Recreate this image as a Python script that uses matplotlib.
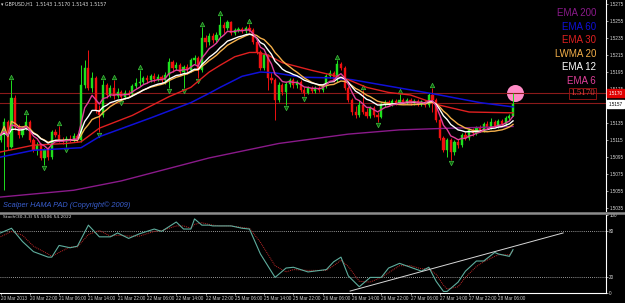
import matplotlib
matplotlib.use("Agg")
import matplotlib.pyplot as plt
import matplotlib.transforms as mtransforms
from matplotlib.lines import Line2D
import numpy as np
import pandas as pd

# GBPUSD H1, bar 0 = 20 Mar 2013 14:00
open0 = 1.5115
close = [
    1.5121, 1.5136, 1.5107, 1.5164, 1.5130, 1.5121, 1.5129, 1.5136, 1.5115, 1.5103,
    1.5109, 1.5094, 1.5103, 1.5095, 1.5124, 1.5121, 1.5115, 1.5114, 1.5116, 1.5115,
    1.5120, 1.5115, 1.5180, 1.5200, 1.5176, 1.5188, 1.5150, 1.5144, 1.5180, 1.5168,
    1.5176, 1.5167, 1.5171, 1.5166, 1.5170, 1.5169, 1.5179, 1.5182, 1.5183, 1.5188,
    1.5186, 1.5190, 1.5187, 1.5189, 1.5186, 1.5191, 1.5207, 1.5200, 1.5203, 1.5195,
    1.5201, 1.5197, 1.5209, 1.5211, 1.5197, 1.5235, 1.5230, 1.5237, 1.5233, 1.5238,
    1.5250, 1.5247, 1.5254, 1.5241, 1.5244, 1.5246, 1.5243, 1.5247, 1.5244, 1.5230,
    1.5218, 1.5200, 1.5215, 1.5188, 1.5186, 1.5162, 1.5180, 1.5171, 1.5181, 1.5186,
    1.5180, 1.5183, 1.5174, 1.5170, 1.5176, 1.5173, 1.5176, 1.5174, 1.5179, 1.5190,
    1.5194, 1.5186, 1.5204, 1.5200, 1.5176, 1.5162, 1.5148, 1.5144, 1.5156, 1.5148,
    1.5143, 1.5153, 1.5144, 1.5142, 1.5157, 1.5160, 1.5157, 1.5161, 1.5159, 1.5162,
    1.5160, 1.5162, 1.5159, 1.5161, 1.5157, 1.5160, 1.5156, 1.5168, 1.5162, 1.5139,
    1.5117, 1.5103, 1.5115, 1.5101, 1.5113, 1.5109, 1.5121, 1.5117, 1.5127, 1.5123,
    1.5129, 1.5127, 1.5134, 1.5130, 1.5136, 1.5131, 1.5137, 1.5134, 1.5141, 1.5143,
    1.5157,
]
high = [
    1.5124, 1.5141, 1.5139, 1.5186, 1.5168, 1.5134, 1.5131, 1.5144, 1.5139, 1.5117,
    1.5113, 1.5111, 1.5106, 1.5107, 1.5127, 1.5128, 1.5131, 1.5119, 1.5120, 1.5121,
    1.5123, 1.5122, 1.5203, 1.5209, 1.5221, 1.5195, 1.5190, 1.5156, 1.5186, 1.5182,
    1.5180, 1.5186, 1.5176, 1.5174, 1.5174, 1.5174, 1.5181, 1.5188, 1.5197, 1.5190,
    1.5191, 1.5193, 1.5194, 1.5193, 1.5191, 1.5195, 1.5211, 1.5209, 1.5207, 1.5206,
    1.5203, 1.5204, 1.5211, 1.5215, 1.5214, 1.5248, 1.5238, 1.5241, 1.5241, 1.5242,
    1.5261, 1.5254, 1.5256, 1.5255, 1.5247, 1.5248, 1.5248, 1.5249, 1.5251, 1.5247,
    1.5233, 1.5221, 1.5217, 1.5216, 1.5195, 1.5188, 1.5183, 1.5182, 1.5183, 1.5188,
    1.5188, 1.5186, 1.5186, 1.5177, 1.5179, 1.5179, 1.5179, 1.5179, 1.5181, 1.5193,
    1.5197, 1.5196, 1.5209, 1.5207, 1.5202, 1.5179, 1.5164, 1.5155, 1.5162, 1.5174,
    1.5153, 1.5155, 1.5155, 1.5148, 1.5160, 1.5162, 1.5162, 1.5163, 1.5163, 1.5169,
    1.5164, 1.5164, 1.5164, 1.5163, 1.5163, 1.5162, 1.5162, 1.5170, 1.5176, 1.5164,
    1.5141, 1.5120, 1.5117, 1.5117, 1.5115, 1.5116, 1.5123, 1.5124, 1.5129, 1.5129,
    1.5131, 1.5133, 1.5136, 1.5137, 1.5141, 1.5139, 1.5140, 1.5140, 1.5143, 1.5146,
    1.5170,
]
low = [
    1.5113, 1.5056, 1.5103, 1.5106, 1.5127, 1.5117, 1.5119, 1.5127, 1.5113, 1.5101,
    1.5097, 1.5091, 1.5086, 1.5091, 1.5093, 1.5119, 1.5113, 1.5110, 1.5107, 1.5113,
    1.5113, 1.5113, 1.5113, 1.5176, 1.5174, 1.5171, 1.5147, 1.5124, 1.5142, 1.5164,
    1.5166, 1.5163, 1.5164, 1.5162, 1.5163, 1.5166, 1.5167, 1.5176, 1.5179, 1.5181,
    1.5182, 1.5183, 1.5183, 1.5184, 1.5182, 1.5181, 1.5176, 1.5195, 1.5197, 1.5191,
    1.5176, 1.5193, 1.5195, 1.5204, 1.5188, 1.5195, 1.5224, 1.5227, 1.5229, 1.5230,
    1.5236, 1.5241, 1.5244, 1.5238, 1.5238, 1.5242, 1.5241, 1.5241, 1.5242, 1.5228,
    1.5216, 1.5197, 1.5197, 1.5174, 1.5182, 1.5139, 1.5160, 1.5168, 1.5156, 1.5177,
    1.5176, 1.5176, 1.5171, 1.5167, 1.5169, 1.5170, 1.5170, 1.5171, 1.5171, 1.5176,
    1.5188, 1.5183, 1.5183, 1.5197, 1.5174, 1.5160, 1.5144, 1.5141, 1.5142, 1.5146,
    1.5141, 1.5141, 1.5142, 1.5136, 1.5141, 1.5154, 1.5155, 1.5155, 1.5156, 1.5157,
    1.5157, 1.5157, 1.5156, 1.5156, 1.5155, 1.5155, 1.5154, 1.5154, 1.5148, 1.5136,
    1.5115, 1.5101, 1.5095, 1.5091, 1.5097, 1.5106, 1.5107, 1.5115, 1.5115, 1.5120,
    1.5121, 1.5124, 1.5124, 1.5128, 1.5128, 1.5129, 1.5129, 1.5131, 1.5131, 1.5139,
    1.5143,
]

fractal_up = [3, 7, 16, 28, 31, 38, 55, 60, 68, 92, 99, 109, 118]
fractal_dn = [12, 18, 27, 33, 46, 50, 54, 78, 83, 103, 123]

# slow averages (bar index, price)
ema30_idx = [0, 9, 18, 22, 27, 36, 46, 52, 57, 60, 64, 68, 70, 73, 77, 85, 91, 95, 100, 106, 112, 120, 128, 140]
ema30_val = [1.5101, 1.5109, 1.5111, 1.5113, 1.5129, 1.5144, 1.5166, 1.5177, 1.5195, 1.5203, 1.5213, 1.5218,
             1.5218, 1.5215, 1.5206, 1.5197, 1.5191, 1.5186, 1.5177, 1.5171, 1.5168, 1.5156, 1.5148, 1.5147]
ema60_idx = [0, 9, 22, 27, 41, 52, 57, 60, 66, 71, 75, 82, 91, 96, 104, 112, 120, 131, 140]
ema60_val = [1.5095, 1.5103, 1.5106, 1.5119, 1.5141, 1.5159, 1.5170, 1.5177, 1.5190, 1.5195, 1.5194, 1.5189,
             1.5188, 1.5186, 1.5180, 1.5174, 1.5168, 1.5159, 1.5154]
ema200_idx = [0, 20, 33, 57, 76, 95, 109, 123, 140]
ema200_val = [1.5048, 1.5056, 1.5067, 1.5094, 1.5111, 1.5122, 1.5127, 1.5129, 1.5131]

hlines = [1.5170, 1.5159]

stoch_idx = [0, 3, 6, 9, 13, 14, 16, 19, 21, 24, 27, 30, 32, 35, 38, 42, 44, 48, 50, 52, 53, 55, 57, 58,
             60, 63, 66, 68, 71, 75, 78, 80, 84, 89, 91, 93, 95, 98, 101, 104, 106, 109, 112, 115, 117,
             119, 121, 122, 125, 127, 130, 132, 135, 136, 139, 140]
stoch_main = [77, 83, 66, 53, 46, 46, 61, 58, 60, 87, 72, 72, 77, 70, 76, 82, 79, 91, 82, 82, 95, 87, 87, 86,
              86, 86, 83, 82, 50, 20, 32, 33, 27, 30, 40, 46, 22, 8, 20, 20, 32, 38, 33, 28, 33,
              15, 2, 2, 14, 28, 41, 41, 52, 50, 47, 55.55]
stoch_signal = [72, 79, 74, 60, 50, 47, 52, 59, 59, 75, 80, 73, 74, 73, 73, 79, 80, 86, 86, 83, 88, 90, 88, 87,
                86, 86, 84, 83, 65, 35, 27, 30, 29, 29, 35, 42, 34, 15, 14, 20, 26, 35, 35, 31, 31,
                24, 10, 5, 8, 20, 34, 40, 47, 49, 49, 54.20]
trend_idx = [95.5, 153.7]
trend_val = [2.5, 77]

date_labels = ["20 Mar 2013", "20 Mar 22:00", "21 Mar 06:00", "21 Mar 14:00", "21 Mar 22:00",
               "22 Mar 06:00", "22 Mar 14:00", "22 Mar 22:00", "25 Mar 06:00", "25 Mar 14:00",
               "25 Mar 22:00", "26 Mar 06:00", "26 Mar 14:00", "26 Mar 22:00", "27 Mar 06:00",
               "27 Mar 14:00", "27 Mar 22:00", "28 Mar 06:00"]

legend_names = ["EMA 200", "EMA 60", "EMA 30", "LWMA 20", "EMA 12", "EMA 6"]
legend_colors = ["#8a1a8a", "#1010d8", "#e02020", "#f5b04a", "#ffffff", "#e0409a"]

# ---------------------------------------------------------------
opens = np.array([open0] + close[:-1])
cl = np.array(close)
hi = np.array(high)
lo = np.array(low)
x = np.arange(len(cl))

cs = pd.Series(cl)
ema6 = cs.ewm(span=6, adjust=False).mean()
ema12 = cs.ewm(span=12, adjust=False).mean()
lwma20 = cs.rolling(20, min_periods=1).apply(
    lambda a: np.dot(a, np.arange(1, len(a) + 1)) / np.arange(1, len(a) + 1).sum(), raw=True)

BULL, BEAR = "#1ee01e", "#f01010"
AXFONT = "Liberation Sans"

fig = plt.figure(figsize=(6.25, 3.03), dpi=100, facecolor="black")
ax = fig.add_axes([0, 92 / 303, 606 / 625, 211 / 303], facecolor="black")
ax2 = fig.add_axes([0, 10 / 303, 606 / 625, 78 / 303], facecolor="black", sharex=ax)

for a in (ax, ax2):
    for s in ("left", "top", "bottom"):
        a.spines[s].set_visible(False)
    a.spines["right"].set_color("white")
    a.spines["right"].set_linewidth(0.8)
ax2.spines["bottom"].set_visible(True)
ax2.spines["bottom"].set_color("white")
ax2.spines["bottom"].set_linewidth(0.8)

ax.set_xlim(-0.14, 165.4)
ax.set_ylim(1.50316, 1.52797)

# horizontal lines and the marker circle
for lvl in hlines:
    ax.axhline(lvl, color="#8b1a1a", lw=0.8, zorder=1)
ax.scatter([x[-1] + 0.5], [hi[-1]], s=150, color="#ff8cc6", zorder=0.9, linewidths=0)

# candles
up = cl >= opens
colors = np.where(up, BULL, BEAR)
ax.vlines(x, lo, hi, colors=colors, lw=0.7, zorder=2)
ax.bar(x, np.abs(cl - opens), bottom=np.minimum(cl, opens), width=0.6,
       color=colors, edgecolor=colors, linewidth=0.3, zorder=2.1)

# fractal arrows
fu = np.array(fractal_up)
fd = np.array(fractal_dn)
ax.plot(fu, hi[fu] + 0.00035, ls="none", marker="^", ms=3.2, mfc="#0b5e0b", mec="#40c040", mew=0.5, zorder=2.5)
ax.plot(fd, lo[fd] - 0.00035, ls="none", marker="v", ms=3.2, mfc="#0b5e0b", mec="#40c040", mew=0.5, zorder=2.5)

# moving averages
ax.plot(ema200_idx, ema200_val, color=legend_colors[0], lw=1.0, zorder=3)
ax.plot(ema60_idx, ema60_val, color=legend_colors[1], lw=1.1, zorder=3)
ax.plot(ema30_idx, ema30_val, color=legend_colors[2], lw=1.0, zorder=3)
ax.plot(x, lwma20, color=legend_colors[3], lw=1.0, zorder=3)
ax.plot(x, ema12, color=legend_colors[4], lw=1.0, zorder=3)
ax.plot(x, ema6, color=legend_colors[5], lw=1.0, zorder=3)

# price axis (the label under the bid box is hidden, as on the terminal)
ticks = np.arange(1.5035, 1.52751, 0.002)
ax.yaxis.tick_right()
ax.set_yticks(ticks)
ax.set_yticklabels(["" if abs(t - cl[-1]) < 0.0005 else f"{t:.4f}" for t in ticks],
                   family=AXFONT)
ax.tick_params(axis="y", labelsize=3.3, colors="#d8d8d8", length=1.5, width=0.5, pad=0.8)
ax.tick_params(axis="x", bottom=False, labelbottom=False)

blend = mtransforms.blended_transform_factory(ax.transAxes, ax.transData)
ax.text(1.004, hi[-1], f"{hi[-1]:.4f}", transform=blend, ha="left", va="center", fontsize=3.3,
        family=AXFONT, color="white", clip_on=False, zorder=6,
        bbox=dict(boxstyle="square,pad=0.3", fc="#e00000", ec="#e00000"))
ax.text(1.004, cl[-1], f"{cl[-1]:.4f}", transform=blend, ha="left", va="center", fontsize=3.3,
        family=AXFONT, color="black", clip_on=False, zorder=6,
        bbox=dict(boxstyle="square,pad=0.3", fc="white", ec="white"))

# boxed level label
ax.text(0.982, hlines[0], f"{hlines[0]:.4f}", transform=blend, ha="right", va="center", fontsize=6.5,
        family="Liberation Serif", color="#e03a3a", zorder=6,
        bbox=dict(boxstyle="square,pad=0.15", fc="none", ec="#a01515", lw=0.6))

# legend text
for k, (name, col) in enumerate(zip(legend_names, legend_colors)):
    ax.text(0.9835, 1 - (13 + 13.6 * k) / 211, name, transform=ax.transAxes, ha="right", va="center",
            fontsize=7, color=col, family="Liberation Sans")

ax.text(0.005, 1 - 205 / 211, "Scalper HAMA PAD (Copyright\u00a9 2009)", transform=ax.transAxes,
        fontsize=5.3, style="italic", color="#3a5fd0", va="center", family="Liberation Sans")

fig.text(1 / 625, 1 - 4.5 / 303,
         f"\u25be GBPUSD,H1  {opens[-1]:.4f} {hi[-1]:.4f} {lo[-1]:.4f} {cl[-1]:.4f}",
         fontsize=3.4, color="#e0e0e0", va="center")

# separator between panels
fig.add_artist(Line2D([0, 1], [1 - 213 / 303] * 2, color="#8c8c8c", lw=1.8, transform=fig.transFigure))

# stochastic panel
ax2.set_ylim(0, 100)
for lvl in (80, 20):
    ax2.axhline(lvl, color="#c8c8c8", ls=(0, (1, 1.5)), lw=0.6)
ax2.plot(stoch_idx, stoch_signal, color="#c02828", ls=(0, (1, 1)), lw=0.7)
ax2.plot(stoch_idx, stoch_main, color="#5fae9e", lw=0.8)
ax2.plot(trend_idx, trend_val, color="#d8d8d8", lw=0.7)

ax2.yaxis.tick_right()
ax2.set_yticks([0, 20, 80, 100])
ax2.set_yticklabels(["0", "20", "80", "100"], family=AXFONT)
ax2.tick_params(axis="y", labelsize=3.3, colors="#d8d8d8", length=1.5, width=0.5, pad=0.8)
ax2.set_xticks(np.arange(0, 8 * len(date_labels), 8))
ax2.set_xticklabels(date_labels, family=AXFONT)
ax2.tick_params(axis="x", labelsize=3.3, colors="#d0d0d0", length=1.5, width=0.5, pad=0.4)
for lbl in ax2.get_xticklabels():
    lbl.set_ha("left")

fig.text(3 / 625, 1 - 217.5 / 303, "Stoch(30,3,3) 55.5506 54.2022", fontsize=3.2, color="#e0e0e0",
         va="center")

fig.savefig("out.png", dpi=100, facecolor="black")
